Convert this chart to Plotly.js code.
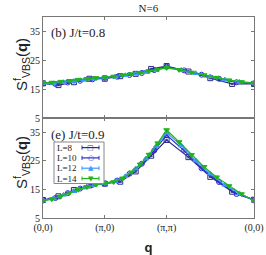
<!DOCTYPE html>
<html><head><meta charset="utf-8">
<script src="https://cdn.plot.ly/plotly-3.0.1.min.js"></script>
<style>body{margin:0;padding:0;background:#fff}#plot{width:266px;height:255px}</style>
</head><body><div id="plot"></div>
<script>
// System sizes
const sizes = [8, 10, 12, 14];
const seriesNames = ["L=8", "L=10", "L=12", "L=14"];
// Path tick labels
const tickLabels = ["(0,0)", "(π,0)", "(π,π)", "(0,0)"];

// Panel (b) J/t=0.8
const top_L8  = [17.0,16.4,17.4,18.6,18.6,19.5,20.3,22.0,23.0,21.1,18.8,16.8,16.8];
const top_L10 = [17.0,16.8,17.3,17.9,18.4,18.9,19.3,19.9,20.6,21.6,22.8,21.5,20.0,18.6,17.4,17.0];
const top_L12 = [17.1,17.0,17.4,17.8,18.2,18.6,19.0,19.3,19.8,20.3,20.9,21.6,22.5,21.6,20.5,19.4,18.3,17.5,17.1];
const top_L14 = [17.2,17.3,17.6,17.9,18.3,18.6,18.9,19.1,19.4,19.8,20.2,20.7,21.2,21.8,22.4,21.7,20.8,19.9,19.0,18.1,17.5,17.2];

// Panel (e) J/t=0.9
const bot_L8  = [11.3,12.6,14.8,16.4,17.0,17.7,21.3,26.8,32.3,26.3,19.4,14.2,11.4];
const bot_L10 = [11.2,12.0,13.7,15.3,16.6,17.1,18.1,20.5,24.0,28.6,34.0,28.6,22.4,17.6,13.4,11.3];
const bot_L12 = [11.1,11.8,13.1,14.4,15.6,16.6,17.1,17.9,19.6,22.3,25.8,30.2,34.9,30.4,25.1,20.5,16.6,13.6,11.2];
const bot_L14 = [11.0,11.6,12.6,13.8,14.9,15.9,16.7,17.1,17.6,18.9,21.0,23.8,27.2,31.2,35.8,31.6,27.1,22.9,19.3,16.2,13.4,11.0];

const topData = [top_L8, top_L10, top_L12, top_L14];
const botData = [bot_L8, bot_L10, bot_L12, bot_L14];

const colors = ['#2a2a8c', '#2b2bd0', '#3d9bff', '#1fb41f'];
const symbols = ['square-open', 'circle-open', 'triangle-up', 'triangle-down'];
const glyphs = ['□', '○', '▲', '▼'];
const D = Math.SQRT2;

// path coordinate along (0,0)->(pi,0)->(pi,pi)->(0,0), in units of pi
function pathX(L) {
  const h = L / 2, xs = [];
  for (let k = 0; k <= h; k++) xs.push(k / h);
  for (let k = 1; k <= h; k++) xs.push(1 + k / h);
  for (let k = 1; k <= h; k++) xs.push(2 + D * k / h);
  return xs;
}

const traces = [];
sizes.forEach((L, i) => {
  const xs = pathX(L);
  const common = {
    x: xs, mode: 'lines+markers', name: seriesNames[i], showlegend: false,
    line: {color: colors[i], width: 1.2},
    marker: {symbol: symbols[i], size: 5, color: colors[i], line: {color: colors[i], width: 1}},
    error_y: {type: 'constant', value: 0.25, color: colors[i], thickness: 0.8, width: 1.5}
  };
  traces.push(Object.assign({}, common, {y: topData[i], xaxis: 'x2', yaxis: 'y2'}));
  traces.push(Object.assign({}, common, {y: botData[i], xaxis: 'x', yaxis: 'y'}));
});

const serif = 'Liberation Serif';
const sans = 'Liberation Sans';
const tickVals = [0, 1, 2, 2 + D];
const split = 100 / 201;

const yBase = {
  range: [5, 40], tickvals: [5, 15, 25, 35], ticks: 'inside', ticklen: 3,
  showline: true, linecolor: '#777', linewidth: 1, mirror: 'ticks', tickcolor: '#777',
  showgrid: false, zeroline: false, tickfont: {family: serif, size: 10, color: '#222'}
};
const xBase = {
  range: [0, 2 + D], tickvals: tickVals, ticks: 'inside', ticklen: 3,
  showline: true, linecolor: '#777', linewidth: 1, mirror: 'ticks', tickcolor: '#777',
  showgrid: false, zeroline: false
};

// pixel -> paper helpers for the manual legend (plot area: x 43..254, y 17..218)
const px = v => (v - 43) / 211;
const py = v => (218 - v) / 201;

const annotations = [
  {text: '(b) J/t=0.8', xref: 'paper', yref: 'paper', x: px(49), y: py(32), xanchor: 'left', yanchor: 'middle', showarrow: false,
   font: {family: serif, size: 13, color: '#222'}},
  {text: '(e) J/t=0.9', xref: 'paper', yref: 'paper', x: px(49), y: py(134), xanchor: 'left', yanchor: 'middle', showarrow: false,
   font: {family: serif, size: 13, color: '#222'}},
  {text: 'S<sup>f</sup><sub>VBS</sub>(<b>q</b>)', xref: 'paper', yref: 'paper', x: px(21), y: py(65), textangle: -90,
   xanchor: 'center', yanchor: 'middle', showarrow: false, font: {family: sans, size: 15, color: '#222'}},
  {text: 'S<sup>f</sup><sub>VBS</sub>(<b>q</b>)', xref: 'paper', yref: 'paper', x: px(21), y: py(163), textangle: -90,
   xanchor: 'center', yanchor: 'middle', showarrow: false, font: {family: sans, size: 15, color: '#222'}}
];
const shapes = [
  {type: 'rect', xref: 'paper', yref: 'paper', x0: px(54), x1: px(104), y0: py(142), y1: py(183.5),
   line: {color: '#888', width: 1}, fillcolor: '#fff', layer: 'above'}
];
const rowY = [147.6, 157.9, 168.2, 178.5];
seriesNames.forEach((n, i) => {
  annotations.push({text: n, xref: 'paper', yref: 'paper', x: px(55.5), y: py(rowY[i]), xanchor: 'left', yanchor: 'middle',
    showarrow: false, borderpad: 0, font: {family: serif, size: 9, color: '#222'}});
  shapes.push({type: 'line', xref: 'paper', yref: 'paper', x0: px(82), x1: px(99), y0: py(rowY[i]), y1: py(rowY[i]),
    line: {color: colors[i], width: 1.2}, layer: 'above'});
  [82, 99].forEach(cx => shapes.push({type: 'line', xref: 'paper', yref: 'paper', x0: px(cx), x1: px(cx),
    y0: py(rowY[i] - 2), y1: py(rowY[i] + 2), line: {color: colors[i], width: 1}, layer: 'above'}));
  annotations.push({text: glyphs[i], xref: 'paper', yref: 'paper', x: px(90.5), y: py(rowY[i]), xanchor: 'center', yanchor: 'middle',
    showarrow: false, borderpad: 0, font: {family: 'DejaVu Sans', size: 7, color: colors[i]}});
});

const layout = {
  width: 266, height: 255,
  margin: {l: 43, r: 12, t: 17, b: 37},
  paper_bgcolor: '#fff', plot_bgcolor: '#fff',
  showlegend: false,
  title: {text: 'N=6', font: {family: serif, size: 11, color: '#222'}, x: 0.558, xanchor: 'center', y: 0.985, yanchor: 'top'},
  xaxis: Object.assign({}, xBase, {anchor: 'y', ticktext: tickLabels, tickfont: {family: serif, size: 10, color: '#222'},
    title: {text: '<b>q</b>', font: {family: sans, size: 13, color: '#222'}, standoff: 10}}),
  yaxis: Object.assign({}, yBase, {domain: [0, split], anchor: 'x'}),
  xaxis2: Object.assign({}, xBase, {anchor: 'y2', showticklabels: false, matches: 'x'}),
  yaxis2: Object.assign({}, yBase, {domain: [split, 1], anchor: 'x2'}),
  annotations: annotations,
  shapes: shapes
};

Plotly.newPlot('plot', traces, layout, {staticPlot: true, displayModeBar: false});
</script></body></html>
